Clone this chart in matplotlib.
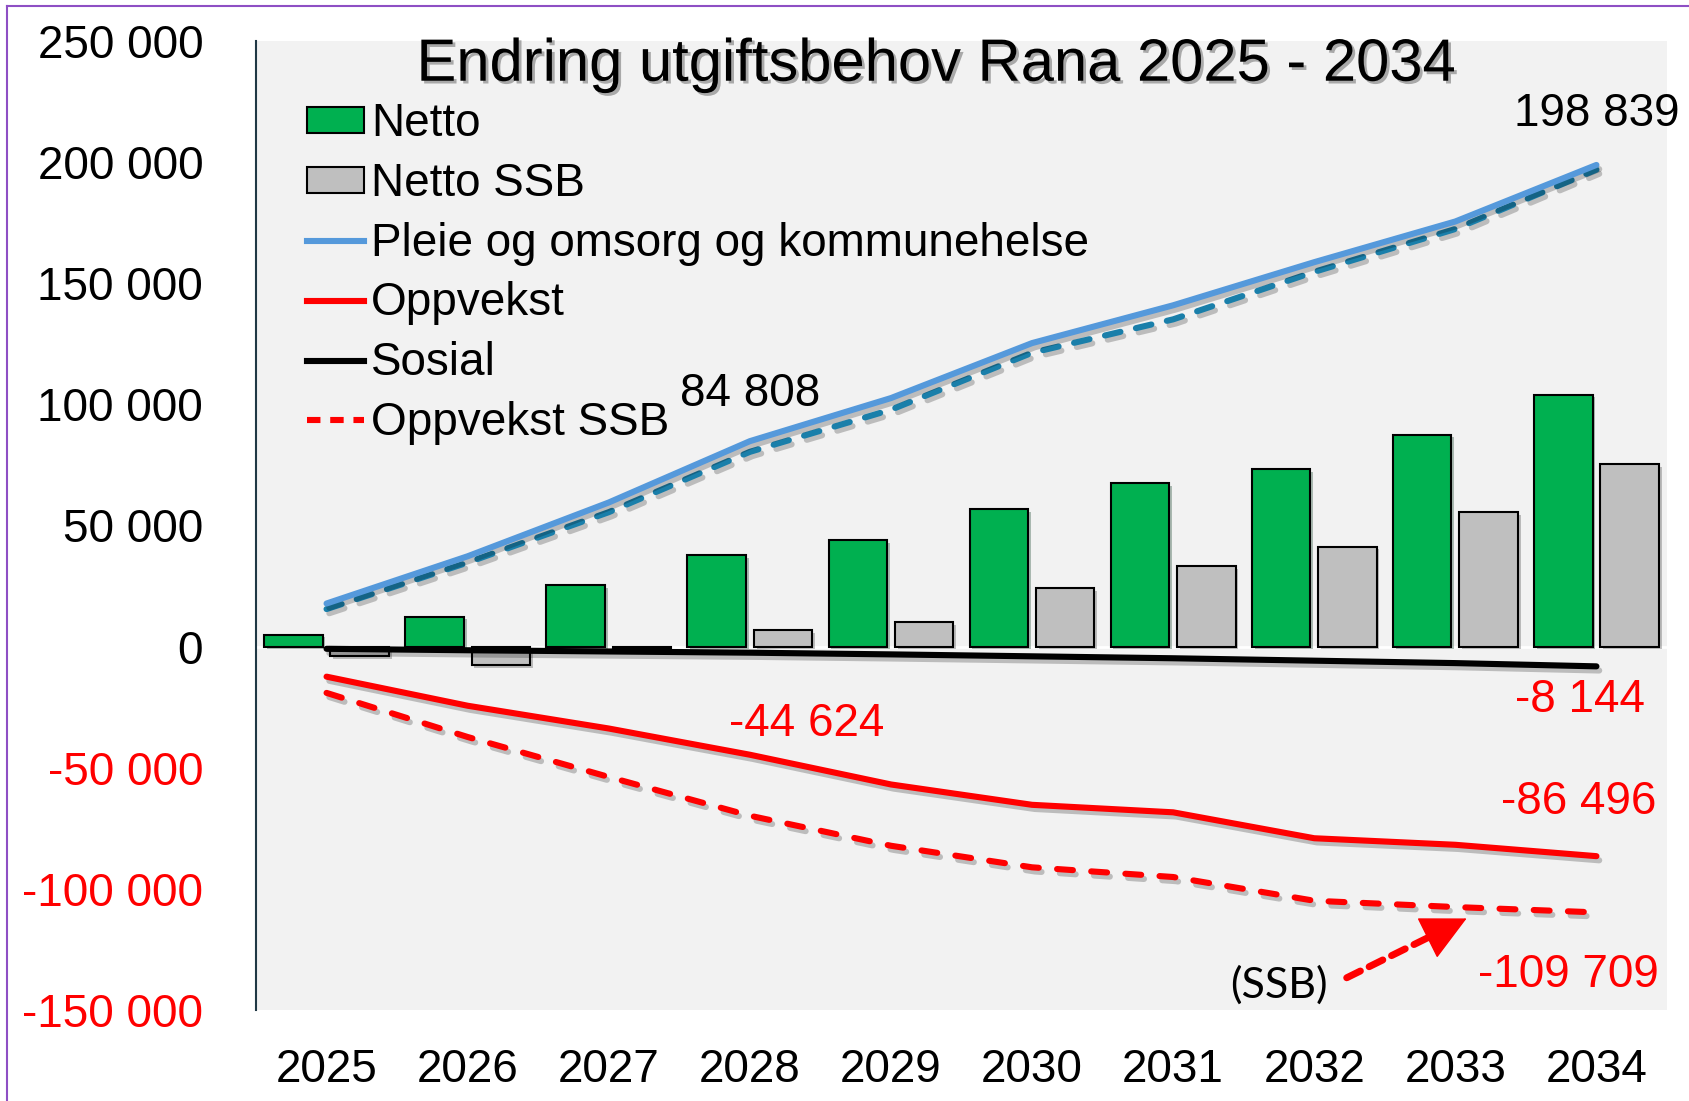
import matplotlib
matplotlib.use("Agg")
import matplotlib.pyplot as plt
import matplotlib.patheffects as pe
from matplotlib.patches import Patch
from matplotlib.lines import Line2D
import numpy as np

plt.rcParams['font.family'] = ['Liberation Sans', 'DejaVu Sans']

# ---------------- data ----------------
years = ["2025", "2026", "2027", "2028", "2029", "2030", "2031", "2032", "2033", "2034"]
netto = [5000, 12400, 25300, 37800, 44000, 56900, 67500, 73300, 87500, 104000]
netto_ssb = [-4000, -7500, -800, 6700, 10200, 24000, 33300, 41300, 55500, 75500]
pleie = [17800, 37300, 59500, 84808, 102600, 125300, 140900, 158700, 175500, 198839]
pleie_ssb = [15500, 34700, 55500, 80400, 97800, 121300, 135100, 154700, 172400, 196900]
oppvekst = [-12400, -24400, -33800, -44624, -56900, -65300, -68400, -79100, -81800, -86496]
oppvekst_ssb = [-19100, -37300, -53800, -69800, -82200, -91100, -95100, -104900, -107500, -109709]
sosial = [-900, -1500, -2000, -2500, -3200, -4000, -4800, -5800, -6800, -8144]
yticks = [-150000, -100000, -50000, 0, 50000, 100000, 150000, 200000, 250000]
title = "Endring utgiftsbehov Rana 2025 - 2034"
legend_labels = ["Netto", "Netto SSB", "Pleie og omsorg og kommunehelse",
                 "Oppvekst", "Sosial", "Oppvekst SSB"]

GREEN = "#00B050"
GRAY = "#BFBFBF"
BLUE = "#5599DB"
TEAL = "#1A7FAA"
RED = "#FF0000"
BG = "#F2F2F2"
FS = 33

W, H = 1689, 1101
fig = plt.figure(figsize=(W / 100, H / 100), dpi=100)
fig.patch.set_facecolor("white")

# purple frame (top and left visible)
fig.add_artist(Line2D([7 / W, 1], [1 - 6 / H, 1 - 6 / H], transform=fig.transFigure,
                      color="#8E4FC4", lw=1.5))
fig.add_artist(Line2D([7 / W, 7 / W], [0, 1 - 6 / H], transform=fig.transFigure,
                      color="#8E4FC4", lw=1.5))

left, right, top, bottom = 256, 1667, 41, 1010
ax = fig.add_axes([left / W, 1 - bottom / H, (right - left) / W, (bottom - top) / H])
ax.set_facecolor(BG)

x = np.arange(len(years))
bw = 0.415
off = 0.235

ax.axhline(0, color="white", lw=2, zorder=1)

shadow_patch = [pe.SimplePatchShadow(offset=(2, -2), alpha=0.3), pe.Normal()]
shadow_line = [pe.SimpleLineShadow(offset=(2, -3), alpha=0.22, shadow_color="k"), pe.Normal()]

b1 = ax.bar(x - off, netto, width=bw, color=GREEN, edgecolor="black", linewidth=1.5, zorder=2)
b2 = ax.bar(x + off, netto_ssb, width=bw, color=GRAY, edgecolor="black", linewidth=1.5, zorder=2)
for b in list(b1) + list(b2):
    b.set_path_effects(shadow_patch)

lw = 4.4
ax.plot(x, pleie_ssb, color=TEAL, lw=lw, dashes=(2.6, 2.6), dash_capstyle="round",
        zorder=3, path_effects=shadow_line)
ax.plot(x, pleie, color=BLUE, lw=lw, solid_capstyle="round", zorder=4, path_effects=shadow_line)
ax.plot(x, oppvekst_ssb, color=RED, lw=lw, dashes=(2.6, 3.0), dash_capstyle="round",
        zorder=3, path_effects=shadow_line)
ax.plot(x, oppvekst, color=RED, lw=lw, solid_capstyle="round", zorder=4, path_effects=shadow_line)
ax.plot(x, sosial, color="black", lw=lw, solid_capstyle="round", zorder=4, path_effects=shadow_line)

ax.set_xlim(-0.5, len(years) - 0.5)
ax.set_ylim(yticks[0], yticks[-1])

ax.set_xticks(x)
ax.set_xticklabels(years, fontsize=FS)
ax.set_yticks(yticks)
ax.set_yticklabels([f"{v:,}".replace(",", " ") for v in yticks], fontsize=FS)
for lab, v in zip(ax.get_yticklabels(), yticks):
    lab.set_color(RED if v < 0 else "black")
ax.tick_params(axis="y", length=0, pad=38)
ax.tick_params(axis="x", length=0, pad=27)

for s in ["top", "right", "bottom"]:
    ax.spines[s].set_visible(False)
ax.spines["left"].set_color("#203845")
ax.spines["left"].set_linewidth(1.5)

# title
t = ax.text(0.4824, 0.975, title, transform=ax.transAxes, ha="center", va="center",
            fontsize=43, color="black", zorder=6)
t.set_path_effects([pe.withSimplePatchShadow(offset=(2, -2), alpha=0.3)])

# legend
handles = [
    Patch(facecolor=GREEN, edgecolor="black", linewidth=1.5),
    Patch(facecolor=GRAY, edgecolor="black", linewidth=1.5),
    Line2D([], [], color=BLUE, lw=lw),
    Line2D([], [], color=RED, lw=lw),
    Line2D([], [], color="black", lw=lw),
    Line2D([], [], color=RED, lw=lw, dashes=(2.2, 1.6)),
]
leg = ax.legend(handles, legend_labels, loc="upper left", bbox_to_anchor=(0.036, 0.937),
                frameon=False, fontsize=FS, handlelength=1.25, handleheight=0.5,
                handletextpad=0.15, labelspacing=0.345, borderpad=0, borderaxespad=0)
leg.set_zorder(7)

# value labels
def lab(idx, series, text, dx, dy, color):
    ax.annotate(text, xy=(idx, series[idx]), xytext=(dx, dy), textcoords="offset points",
                ha="center", va="center", fontsize=FS, color=color, annotation_clip=False,
                zorder=8)

lab(3, pleie, "84 808", 0, 34, "black")
lab(9, pleie, "198 839", 0, 37, "black")
lab(3, oppvekst, "-44 624", 41, 22, RED)
lab(9, sosial, "-8 144", -12, -24, RED)
lab(9, oppvekst, "-86 496", -13, 39, RED)
lab(9, oppvekst_ssb, "-109 709", -20, -45, RED)

# (SSB) label and dashed arrow
ax.text(6.75, -139500, "(SSB)", fontsize=31, family=["Lato", "DejaVu Sans"],
        ha="center", va="center", zorder=8)
tail = (7.23, -136700)
neck = (7.89, -117700)
tip = (8.08, -112200)
ax.annotate("", xy=neck, xytext=tail,
            arrowprops=dict(arrowstyle="-", color=RED, lw=5, linestyle=(0, (2.2, 1.4)),
                            shrinkA=0, shrinkB=0), zorder=8)
ax.annotate("", xy=tip, xytext=neck,
            arrowprops=dict(arrowstyle="-|>,head_length=1.2,head_width=0.6", color=RED,
                            lw=1, shrinkA=0, shrinkB=0, mutation_scale=25), zorder=8)

fig.savefig("out.png", dpi=100, facecolor="white")
